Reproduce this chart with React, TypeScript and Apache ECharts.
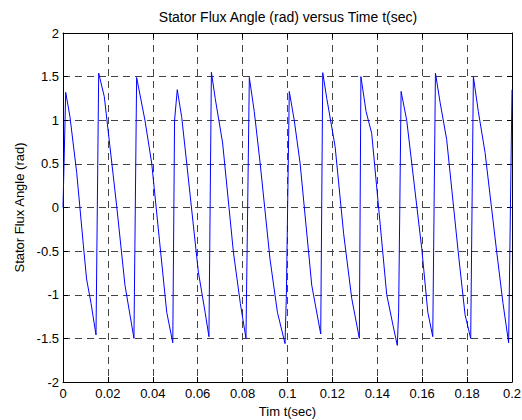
import React, { useEffect, useRef } from "react";
import * as echarts from "echarts";

const timeSec: number[] = [
  0, 0.0012, 0.0031, 0.0061, 0.0091, 0.0105, 0.0125, 0.0147,
  0.0159, 0.0184, 0.0239, 0.0276, 0.0316,
  0.0328, 0.0365, 0.0395, 0.0462, 0.0489,
  0.0497, 0.0509, 0.0529, 0.0551, 0.0603, 0.0633, 0.065,
  0.0661, 0.0678, 0.0711, 0.0759, 0.079, 0.0815,
  0.083, 0.0852, 0.0878, 0.0922, 0.0955, 0.0989,
  0.0995, 0.1008, 0.103, 0.1056, 0.1108, 0.1148,
  0.1157, 0.1175, 0.1212, 0.125, 0.1286, 0.132,
  0.1327, 0.135, 0.1375, 0.1442, 0.147, 0.1489,
  0.1495, 0.1506, 0.1531, 0.1598, 0.1625, 0.1647,
  0.1659, 0.168, 0.1709, 0.176, 0.1791, 0.1816,
  0.1828, 0.185, 0.188, 0.1932, 0.196, 0.1985, 0.2,
];

const fluxAngle: number[] = [
  0, 1.32, 1.04, 0.4, -0.44, -0.82, -1.1, -1.46,
  1.54, 1.27, 0.02, -0.89, -1.5,
  1.49, 1.0, 0.51, -1.2, -1.55,
  1.0, 1.35, 1.03, 0.51, -0.74, -1.2, -1.48,
  1.55, 1.25, 0.74, -0.51, -1.1, -1.5,
  1.49, 1.1, 0.51, -0.59, -1.2, -1.56,
  -1.0, 1.33, 1.0, 0.51, -0.89, -1.45,
  1.545, 1.25, 0.7, -0.3, -1.04, -1.5,
  1.5, 1.1, 0.85, -1.0, -1.35, -1.58,
  -1.2, 1.33, 1.0, -0.47, -1.2, -1.48,
  1.54, 1.2, 0.78, -0.5, -1.23, -1.5,
  1.5, 1.1, 0.63, -0.51, -1.1, -1.55, 1.35,
];

const titleText = "Stator Flux Angle (rad) versus Time t(sec)";
const xName = "Tim t(sec)";
const yName = "Stator Flux Angle (rad)";

const FONT = "'Liberation Sans', Arial, sans-serif";
const FS = 13;

export default function App() {
  const ref = useRef<HTMLDivElement>(null);
  useEffect(() => {
    if (!ref.current) return;
    const chart = echarts.init(ref.current, undefined, { renderer: "svg" });
    const data = timeSec.map((t, i) => [t, fluxAngle[i]]);
    const gridLine = { show: true, lineStyle: { color: "#444", type: [7, 5] as any, width: 1 } };
    const tick = { show: true, inside: true, length: 5, lineStyle: { color: "#000" } };
    const axisLine = { show: true, onZero: false, lineStyle: { color: "#000", width: 1 } };
    chart.setOption({
      animation: false,
      backgroundColor: "#fff",
      grid: { left: 63, right: 10, top: 33, bottom: 38, containLabel: false, outerBoundsMode: "none" } as any,
      graphic: [
        {
          type: "text",
          x: 288,
          y: 17,
          style: {
            text: titleText,
            fill: "#000",
            fontSize: 14,
            fontFamily: FONT,
            textAlign: "center",
            textVerticalAlign: "middle",
          },
        },
      ],
      xAxis: [
        {
          type: "value",
          min: 0,
          max: 0.2,
          interval: 0.02,
          name: xName,
          nameLocation: "middle",
          nameGap: 22,
          nameTextStyle: { color: "#000", fontSize: FS, fontFamily: FONT },
          axisLine,
          axisTick: tick,
          axisLabel: { color: "#000", fontSize: FS, fontFamily: FONT, margin: 5 },
          splitLine: gridLine,
        },
        {
          type: "value",
          position: "top",
          min: 0,
          max: 0.2,
          interval: 0.02,
          axisLine,
          axisTick: tick,
          axisLabel: { show: false },
          splitLine: { show: false },
        },
      ],
      yAxis: [
        {
          type: "value",
          min: -2,
          max: 2,
          interval: 0.5,
          name: yName,
          nameLocation: "middle",
          nameGap: 36,
          nameTextStyle: { color: "#000", fontSize: FS, fontFamily: FONT },
          axisLine,
          axisTick: tick,
          axisLabel: { color: "#000", fontSize: FS, fontFamily: FONT, margin: 4 },
          splitLine: gridLine,
        },
        {
          type: "value",
          position: "right",
          min: -2,
          max: 2,
          interval: 0.5,
          axisLine,
          axisTick: tick,
          axisLabel: { show: false },
          splitLine: { show: false },
        },
      ],
      series: [
        {
          type: "line",
          data,
          xAxisIndex: 0,
          yAxisIndex: 0,
          showSymbol: false,
          symbol: "none",
          lineStyle: { color: "#0000ff", width: 1 },
          z: 5,
        },
      ],
    });
    return () => chart.dispose();
  }, []);
  return <div ref={ref} style={{ width: 522, height: 420, position: "absolute", left: 0, top: 0 }} />;
}
